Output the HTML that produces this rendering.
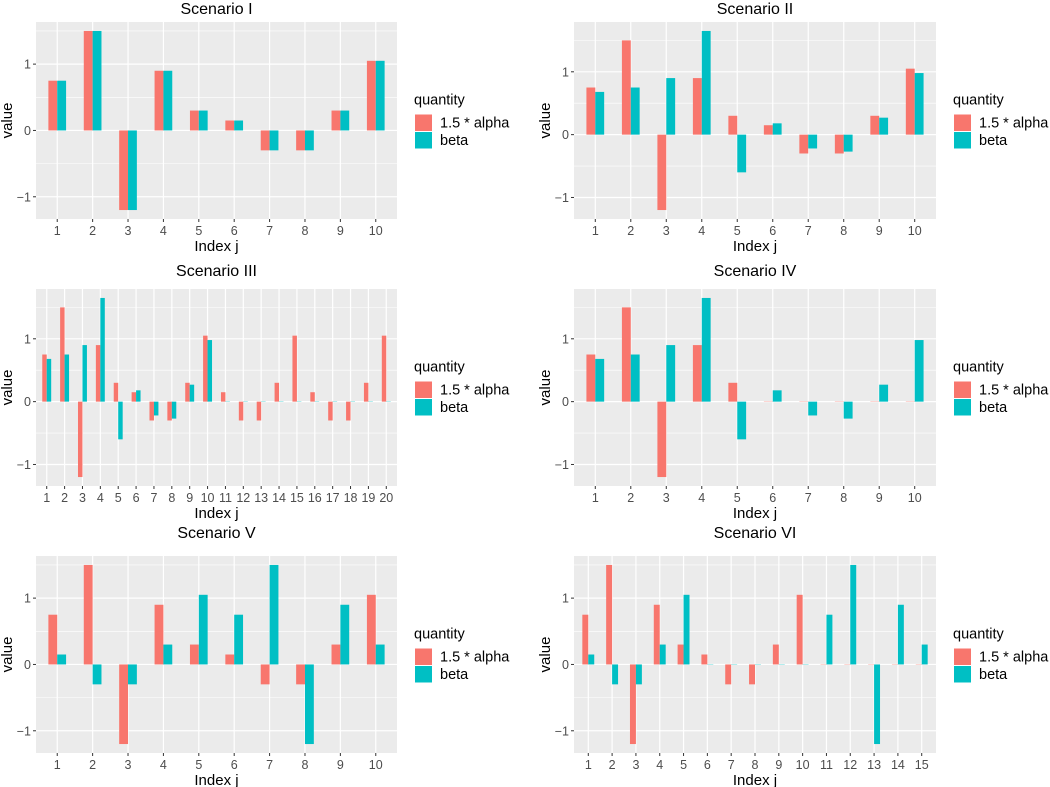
<!DOCTYPE html>
<html><head><meta charset="utf-8"><style>
body{margin:0;background:#fff;}
svg{display:block;font-family:"Liberation Sans",sans-serif;}
</style></head><body>
<svg id="chart" width="1050" height="787" viewBox="0 0 1050 787"></svg>
<script>
const titles = ["Scenario I","Scenario II","Scenario III","Scenario IV","Scenario V","Scenario VI"];
const alphaI   = [0.75,1.5,-1.2,0.9,0.3,0.15,-0.3,-0.3,0.3,1.05];
const betaI    = [0.75,1.5,-1.2,0.9,0.3,0.15,-0.3,-0.3,0.3,1.05];
const alphaII  = [0.75,1.5,-1.2,0.9,0.3,0.15,-0.3,-0.3,0.3,1.05];
const betaII   = [0.68,0.75,0.9,1.65,-0.6,0.18,-0.22,-0.27,0.27,0.98];
const alphaIII = [0.75,1.5,-1.2,0.9,0.3,0.15,-0.3,-0.3,0.3,1.05,0.15,-0.3,-0.3,0.3,1.05,0.15,-0.3,-0.3,0.3,1.05];
const betaIII  = [0.68,0.75,0.9,1.65,-0.6,0.18,-0.22,-0.27,0.27,0.98,0,0,0,0,0,0,0,0,0,0];
const alphaIV  = [0.75,1.5,-1.2,0.9,0.3,0,0,0,0,0];
const betaIV   = [0.68,0.75,0.9,1.65,-0.6,0.18,-0.22,-0.27,0.27,0.98];
const alphaV   = [0.75,1.5,-1.2,0.9,0.3,0.15,-0.3,-0.3,0.3,1.05];
const betaV    = [0.15,-0.3,-0.3,0.3,1.05,0.75,1.5,-1.2,0.9,0.3];
const alphaVI  = [0.75,1.5,-1.2,0.9,0.3,0.15,-0.3,-0.3,0.3,1.05,0,0,0,0,0];
const betaVI   = [0.15,-0.3,-0.3,0.3,1.05,0,0,0,0,0,0.75,1.5,-1.2,0.9,0.3];
const yTicks = [-1,0,1];
const legendLabels = ["1.5 * alpha","beta"];

const alphas=[alphaI,alphaII,alphaIII,alphaIV,alphaV,alphaVI];
const betas=[betaI,betaII,betaIII,betaIV,betaV,betaVI];
const colors=["#F8766D","#00BFC4"];
const NS="http://www.w3.org/2000/svg";
const svg=document.getElementById('chart');
function mk(tag,attrs,parent,text){const e=document.createElementNS(NS,tag);for(const k in attrs)e.setAttribute(k,attrs[k]);if(text!==undefined)e.textContent=text;(parent||svg).appendChild(e);return e;}

const rowsY=[[22,219],[289,486],[556,753]];
const colsX=[[36,397],[574,936]];
const rowOff=[0,262,524];
for(let p=0;p<6;p++){
  const r=Math.floor(p/2), c=p%2;
  const [x0,x1]=colsX[c], [y0,y1]=rowsY[r];
  const A=alphas[p], B=betas[p], n=A.length;
  const all=A.concat(B,[0]);
  let mn=Math.min(...all), mx=Math.max(...all), pad=(mx-mn)*0.05;
  mn-=pad; mx+=pad;
  const ys=v=>y1-(v-mn)/(mx-mn)*(y1-y0);
  const step=(x1-x0)/(n-1+1.2);
  const xs=i=>x0+(0.6+i)*step;
  const g=mk('g',{});
  
  
  mk('rect',{x:x0,y:y0,width:x1-x0,height:y1-y0,fill:'#EBEBEB'},g);
  for(let t=-1.5;t<=2;t+=1){const yy=ys(t);if(yy>y0&&yy<y1)mk('line',{x1:x0,x2:x1,y1:yy,y2:yy,stroke:'#fff','stroke-width':0.6},g);}
  yTicks.forEach(t=>{const yy=ys(t);
    mk('line',{x1:x0,x2:x1,y1:yy,y2:yy,stroke:'#fff','stroke-width':1.2},g);
    mk('line',{x1:x0-3,x2:x0,y1:yy,y2:yy,stroke:'#333','stroke-width':1},g);
    const tl=mk('text',{x:x0-5,y:yy+4.5,'text-anchor':'end','font-size':12.5,fill:'#4D4D4D'},g,t<0?'\u2212'+Math.abs(t):String(t));
    
    
  });
  for(let i=0;i<n;i++){const xx=xs(i);
    mk('line',{x1:xx,x2:xx,y1:y0,y2:y1,stroke:'#fff','stroke-width':1.2},g);
    mk('line',{x1:xx,x2:xx,y1:y1,y2:y1+3,stroke:'#333','stroke-width':1},g);
    const tl=mk('text',{x:xx,y:y1+16,'text-anchor':'middle','font-size':12.5,fill:'#4D4D4D'},g,String(i+1));
    
    
  }
  const bw=step*0.25;
  [A,B].forEach((S,s)=>{S.forEach((v,i)=>{
    const xl=xs(i)-bw+s*bw; const ya=ys(Math.max(v,0)), yb=ys(Math.min(v,0));
    const b=mk('rect',{x:xl,y:ya,width:bw,height:Math.max(yb-ya,0.3),fill:colors[s]},g);
    
    
  });});
  const tt=mk('text',{x:(x0+x1)/2,y:rowOff[r]+14,'text-anchor':'middle','font-size':16,fill:'#000'},g,titles[p]);
  
  
  const xt=mk('text',{x:(x0+x1)/2,y:y1+32,'text-anchor':'middle','font-size':15,fill:'#000'},g,'Index j');
  
  
  const yx=x0-24, yc=(y0+y1)/2;
  const yt=mk('text',{x:yx,y:yc,'text-anchor':'middle','font-size':15,fill:'#000',transform:`rotate(-90 ${yx} ${yc})`},g,'value');
  
  
  const lx=x1+18, ly=yc-16;
  const lt=mk('text',{x:lx-1,y:ly,'font-size':14.5,fill:'#000'},g,'quantity');
  
  
  legendLabels.forEach((lab,k)=>{
    const ky=ly+10+k*17.5;
    const kr=mk('rect',{x:lx,y:ky,width:17,height:16.5,fill:colors[k]},g);
    
    
    const kt=mk('text',{x:lx+25,y:ky+13,'font-size':14.5,fill:'#000'},g,lab);
    
    
  });
}
</script>
</body></html>
